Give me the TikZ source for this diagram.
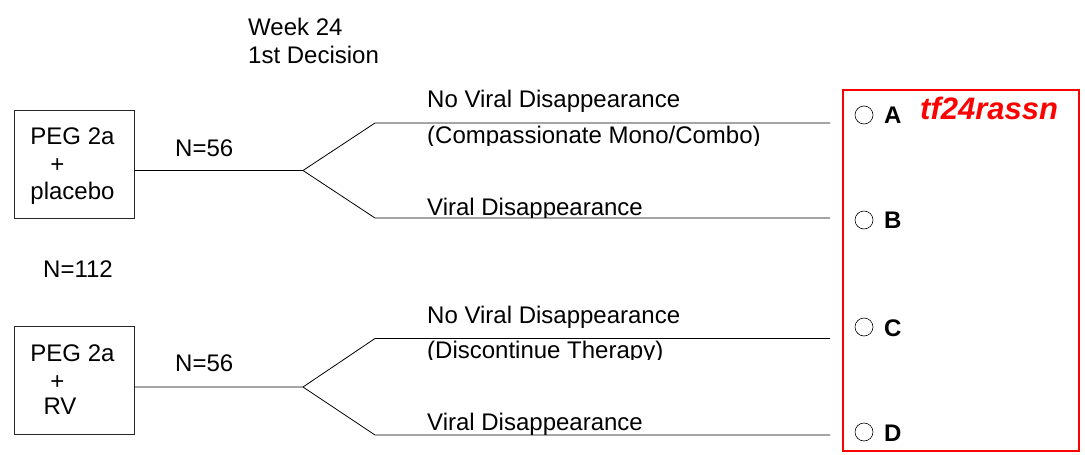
\documentclass[tikz,border=0pt]{standalone}
\usepackage{fontspec}
\setmainfont{Liberation Sans}
\begin{document}
\begin{tikzpicture}[x=1pt,y=-1pt,
  txt/.style={inner sep=0pt,anchor=base west,font=\fontsize{24}{28}\selectfont},
  arm/.style={draw,minimum width=120pt,minimum height=108pt,inner sep=0pt,line width=0.8pt,draw=black!85},
  ln/.style={line width=0.8pt,draw=black},
  opt/.style={circle,draw,line width=0.6pt,minimum size=18pt,inner sep=0pt},
  let/.style={inner sep=0pt,anchor=base west,font=\fontsize{24}{28}\selectfont\bfseries}]
\useasboundingbox (0,0) rectangle (1085,455);
% headings
\node[txt] (wk) at (248,35) {Week 24};
\node[txt] (dec) at (248,63.3) {1st Decision};
\node[txt] (ntot) at (43,277) {N=112};
% arm 1
\node[arm] (b1) at (74,164) {};
\node[txt,anchor=base] (b1l1) at (72.5,144) {PEG 2a};
\node[txt,anchor=base] (b1l2) at (57.5,172) {+};
\node[txt,anchor=base] (b1l3) at (72.5,199) {placebo};
\node[txt] (n1) at (175,156) {N=56};
\coordinate (f1) at (303,170.5);
\coordinate (u1) at (375,123);
\coordinate (d1) at (375,218);
\coordinate (ue1) at (830,123);
\coordinate (de1) at (830,218);
\draw[ln] (b1.east |- f1) -- (f1) -- (u1) -- (ue1);
\draw[ln] (f1) -- (d1) -- (de1);
\node[txt] (t1a) at (427,107.5) {No Viral Disappearance};
\begin{scope}
\clip (400,124) rectangle (830,145);
\node[txt] (t1b) at (427,143.5) {(Compassionate Mono/Combo)};
\end{scope}
\begin{scope}
\clip (400,190) rectangle (830,217.5);
\node[txt] (t1c) at (427,215) {Viral Disappearance};
\end{scope}
% arm 2
\node[arm] (b2) at (74,380.5) {};
\node[txt,anchor=base] (b2l1) at (72.5,361) {PEG 2a};
\node[txt,anchor=base] (b2l2) at (57.5,389) {+};
\node[txt,anchor=base] (b2l3) at (60,414) {RV};
\node[txt] (n2) at (175,371.7) {N=56};
\coordinate (f2) at (303,387);
\coordinate (u2) at (375,338.5);
\coordinate (d2) at (375,435);
\coordinate (ue2) at (830,338.5);
\coordinate (de2) at (830,435);
\draw[ln] (b2.east |- f2) -- (f2) -- (u2) -- (ue2);
\draw[ln] (f2) -- (d2) -- (de2);
\node[txt] (t2a) at (427,323) {No Viral Disappearance};
\begin{scope}
\clip (400,339.5) rectangle (830,359.5);
\node[txt] (t2b) at (427,358.3) {(Discontinue Therapy)};
\end{scope}
\begin{scope}
\clip (400,405) rectangle (830,434.5);
\node[txt] (t2c) at (427,430.7) {Viral Disappearance};
\end{scope}
% answer box
\node[draw=red,line width=2pt,minimum width=236pt,minimum height=361pt,inner sep=0pt] (ans) at (961,270.5) {};
\node[inner sep=0pt,anchor=base west,text=red,font=\fontsize{31}{34}\selectfont\bfseries\itshape] (code) at (920,119) {tf24rassn};
\node[opt] (oA) at (864,115) {};
\node[let] (lA) at (884,123.3) {A};
\node[opt] (oB) at (864,220) {};
\node[let] (lB) at (884,228.3) {B};
\node[opt] (oC) at (864,327) {};
\node[let] (lC) at (884,336.7) {C};
\node[opt] (oD) at (864,432) {};
\node[let] (lD) at (884,441.7) {D};
\end{tikzpicture}
\end{document}
